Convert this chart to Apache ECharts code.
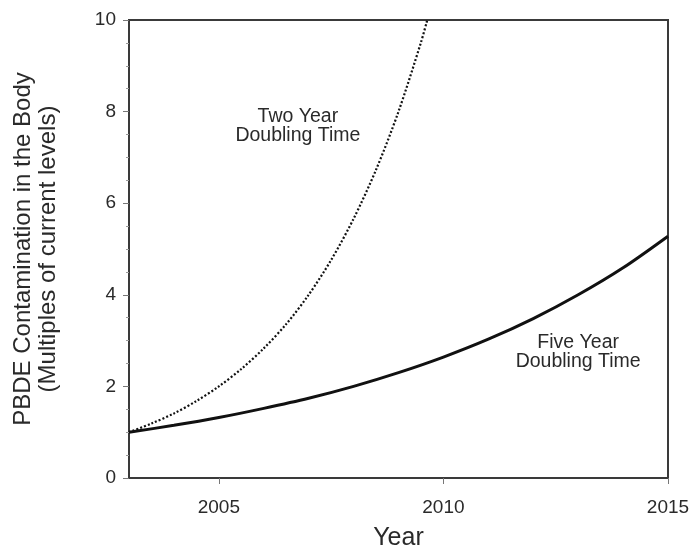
<!DOCTYPE html>
<html>
<head>
<meta charset="utf-8">
<script src="https://cdn.jsdelivr.net/npm/echarts@6/dist/echarts.min.js"></script>
<style>
html,body{margin:0;padding:0;background:#fff;}
#chart{width:692px;height:548px;}
</style>
</head>
<body>
<div id="chart"></div>
<script>
// Data
var twoYearX = [2003, 2003.5, 2004, 2004.5, 2005, 2005.5, 2006, 2006.5, 2007, 2007.5, 2008, 2008.5, 2009, 2009.5, 2009.64];
var twoYearY = [1.00, 1.19, 1.41, 1.68, 2.00, 2.38, 2.83, 3.36, 4.00, 4.76, 5.66, 6.73, 8.00, 9.51, 10.0];
var fiveYearX = [2003, 2004, 2005, 2006, 2007, 2008, 2009, 2010, 2011, 2012, 2013, 2014, 2015];
var fiveYearY = [1.00, 1.15, 1.32, 1.52, 1.74, 2.00, 2.30, 2.64, 3.03, 3.48, 4.00, 4.59, 5.28];
var xTicks = [2005, 2010, 2015];
var yTitle = 'PBDE Contamination in the Body\n(Multiples of current levels)';
var xTitle = 'Year';
var annotations = [
  {text: 'Two Year\nDoubling Time', x: 2006.76, y: 7.69},
  {text: 'Five Year\nDoubling Time', x: 2013.0, y: 2.75}
];

function pairs(xs, ys){ return xs.map(function(x,i){ return [x, ys[i]]; }); }

var FONT = '"Liberation Sans", Arial, Helvetica, sans-serif';
var TXT = '#2a2a2a';
var chart = echarts.init(document.getElementById('chart'), null, {renderer:'canvas'});
var option = {
  backgroundColor: '#fff',
  animation: false,
  grid: {left: 129, top: 20, width: 539, height: 458, containLabel: false, outerBoundsMode: 'none',
    show: true, borderColor: '#3a3a3a', borderWidth: 2, backgroundColor: 'transparent'},
  xAxis: {
    type: 'value', min: 2003, max: 2015,
    name: xTitle, nameLocation: 'middle', nameGap: 48,
    nameTextStyle: {fontFamily: FONT, fontSize: 25, color: TXT},
    axisLine: {show: true, onZero: false, lineStyle: {color: '#3a3a3a', width: 2}},
    axisTick: {show: true, inside: false, length: 6, customValues: xTicks, lineStyle: {color: '#777', width: 1}},
    axisLabel: {customValues: xTicks, margin: 20, fontFamily: FONT, fontSize: 19, color: TXT, formatter: function(v){return String(v);}},
    splitLine: {show: false}
  },
  yAxis: {
    type: 'value', min: 0, max: 10, interval: 2,
    name: yTitle, nameLocation: 'middle', nameGap: 68, nameRotate: 90,
    nameTextStyle: {fontFamily: FONT, fontSize: 24, color: TXT, lineHeight: 25, align: 'center'},
    axisLine: {show: true, onZero: false, lineStyle: {color: '#3a3a3a', width: 2}},
    axisTick: {show: true, inside: false, length: 6, lineStyle: {color: '#777', width: 1}},
    minorTick: {show: true, splitNumber: 4, length: 3, lineStyle: {color: '#999', width: 1}},
    axisLabel: {margin: 13, fontFamily: FONT, fontSize: 19, color: TXT},
    splitLine: {show: false}
  },
  series: [
    {
      name: 'Two Year', type: 'line', data: pairs(twoYearX, twoYearY),
      smooth: 0.3, showSymbol: false, symbol: 'none', clip: true,
      lineStyle: {color: '#111', width: 2.2, type: [2, 2]}
    },
    {
      name: 'Five Year', type: 'line', data: pairs(fiveYearX, fiveYearY),
      smooth: 0.3, showSymbol: false, symbol: 'none', clip: true,
      lineStyle: {color: '#111', width: 3}
    }
  ]
};
chart.setOption(option);
var gfx = annotations.map(function(a){
  var p = chart.convertToPixel({gridIndex: 0}, [a.x, a.y]);
  return {type: 'text', x: p[0], y: p[1], z: 100,
    style: {text: a.text, fontFamily: FONT, fontSize: 19.5, lineHeight: 19, fill: TXT, align: 'center', verticalAlign: 'middle'}};
});
chart.setOption({graphic: gfx});
</script>
</body>
</html>
